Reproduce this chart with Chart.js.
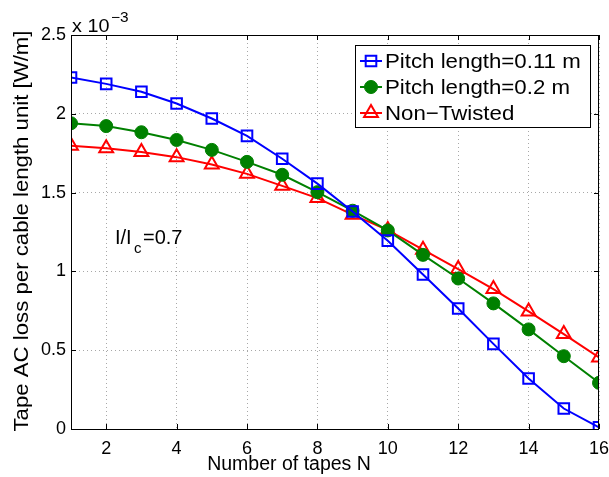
<!DOCTYPE html>
<html>
<head>
<meta charset="utf-8">
<script src="https://cdn.jsdelivr.net/npm/chart.js@4"></script>
<style>
  html, body { margin: 0; padding: 0; background: #fff; }
  #wrap { width: 609px; height: 477px; }
</style>
</head>
<body>
<div id="wrap"><canvas id="myChart" width="609" height="477"></canvas></div>
<script>
// number of tapes (x)
const tapes = [1, 2, 3, 4, 5, 6, 7, 8, 9, 10, 11, 12, 13, 14, 15, 16];
// AC loss, x 10^-3 W/m
const pitch011 = [2.23, 2.19, 2.14, 2.065, 1.97, 1.86, 1.715, 1.557, 1.38, 1.195, 0.98, 0.765, 0.54, 0.32, 0.13, 0.01];
const pitch02 = [1.94, 1.922, 1.883, 1.834, 1.771, 1.695, 1.613, 1.503, 1.385, 1.26, 1.105, 0.955, 0.797, 0.632, 0.462, 0.293];
const nonTwisted = [1.798, 1.782, 1.757, 1.725, 1.678, 1.619, 1.543, 1.465, 1.36, 1.262, 1.138, 1.015, 0.888, 0.746, 0.602, 0.454];

const xTicks = [2, 4, 6, 8, 10, 12, 14, 16];
const yTicks = [0, 0.5, 1, 1.5, 2, 2.5];

const FONT = '"Liberation Sans", Arial, Helvetica, sans-serif';

const toPoints = arr => arr.map((v, i) => ({ x: tapes[i], y: v }));

// text with a bit of horizontal stretch, like the original export
function stretchText(ctx, txt, x, y, size, sx, align) {
    ctx.save();
    ctx.font = size + 'px ' + FONT;
    ctx.textAlign = align || 'left';
    ctx.translate(x, y);
    ctx.scale(sx, 1);
    ctx.fillText(txt, 0, 0);
    ctx.restore();
}

function drawMarker(ctx, style, x, y, r) {
    if (style === 'rect') {
        const s = r / Math.SQRT2;
        ctx.rect(x - s, y - s, 2 * s, 2 * s);
    } else if (style === 'circle') {
        ctx.arc(x, y, r, 0, Math.PI * 2);
    } else if (style === 'triangle') {
        let rad = 0;
        ctx.moveTo(x + Math.sin(rad) * r, y - Math.cos(rad) * r);
        rad += 2 * Math.PI / 3;
        ctx.lineTo(x + Math.sin(rad) * r, y - Math.cos(rad) * r);
        rad += 2 * Math.PI / 3;
        ctx.lineTo(x + Math.sin(rad) * r, y - Math.cos(rad) * r);
        ctx.closePath();
    }
}

// box, inward ticks, titles, legend, annotation
const decorPlugin = {
    id: 'decor',
    afterDraw(chart) {
        const ctx = chart.ctx;
        const a = chart.chartArea;
        const xs = chart.scales.x, ys = chart.scales.y;
        ctx.save();
        ctx.strokeStyle = '#000';
        ctx.lineWidth = 1;
        ctx.strokeRect(a.left + 0.5, a.top + 0.5, a.right - a.left - 1, a.bottom - a.top);
        ctx.beginPath();
        xTicks.forEach(t => {
            const px = Math.round(xs.getPixelForValue(t)) + 0.5;
            ctx.moveTo(px, a.bottom); ctx.lineTo(px, a.bottom - 5);
            ctx.moveTo(px, a.top); ctx.lineTo(px, a.top + 5);
        });
        yTicks.forEach(t => {
            const py = Math.round(ys.getPixelForValue(t)) + 0.5;
            ctx.moveTo(a.left, py); ctx.lineTo(a.left + 5, py);
            ctx.moveTo(a.right, py); ctx.lineTo(a.right - 5, py);
        });
        ctx.stroke();

        ctx.fillStyle = '#000';
        ctx.textBaseline = 'alphabetic';
        // exponent
        stretchText(ctx, 'x 10', 72, 32, 18, 1.1);
        stretchText(ctx, '\u22123', 111, 22, 14, 1.1);

        // axis titles
        stretchText(ctx, 'Number of tapes N', 289, 470, 19.5, 1.0, 'center');
        ctx.save();
        ctx.translate(28, 231);
        ctx.rotate(-Math.PI / 2);
        stretchText(ctx, 'Tape AC loss per cable length unit [W/m]', 0, 0, 20, 1.11, 'center');
        ctx.restore();

        // annotation
        stretchText(ctx, 'I/I', 115, 244, 20, 1.0);
        stretchText(ctx, 'c', 134, 253, 15, 1.0);
        stretchText(ctx, '=0.7', 143, 244, 20, 1.0);

        // legend
        const lx = 355, ly = 45, lw = 235, lh = 82;
        ctx.fillStyle = '#fff';
        ctx.fillRect(lx, ly, lw, lh);
        ctx.strokeStyle = '#000';
        ctx.lineWidth = 1;
        ctx.strokeRect(lx + 0.5, ly + 0.5, lw, lh);
        chart.data.datasets.forEach((ds, i) => {
            const cy = 61 + i * 26;
            ctx.strokeStyle = ds.borderColor;
            ctx.lineWidth = 2;
            ctx.beginPath();
            ctx.moveTo(360, cy); ctx.lineTo(382, cy);
            ctx.stroke();
            ctx.fillStyle = ds.pointBackgroundColor;
            ctx.lineWidth = ds.pointBorderWidth;
            ctx.beginPath();
            drawMarker(ctx, ds.pointStyle, 371, cy, ds.pointRadius);
            if (ds.pointBackgroundColor !== 'transparent') ctx.fill();
            ctx.stroke();
            ctx.fillStyle = '#000';
            ctx.textBaseline = 'middle';
            stretchText(ctx, ds.label, 385, cy + 1, 21, 1.06);
        });
        ctx.restore();
    }
};

const ctx = document.getElementById('myChart').getContext('2d');
const myChart = new Chart(ctx, {
    type: 'line',
    data: {
        datasets: [{
            label: 'Pitch length=0.11 m',
            data: toPoints(pitch011),
            borderColor: '#0000ff',
            backgroundColor: '#0000ff',
            pointStyle: 'rect',
            pointRadius: 7.5,
            pointBorderWidth: 2,
            pointBackgroundColor: 'transparent',
            borderWidth: 2,
            tension: 0
        }, {
            label: 'Pitch length=0.2 m',
            data: toPoints(pitch02),
            borderColor: '#008000',
            backgroundColor: '#008000',
            pointStyle: 'circle',
            pointRadius: 6.5,
            pointBorderWidth: 1,
            pointBackgroundColor: '#008000',
            borderWidth: 2,
            tension: 0
        }, {
            label: 'Non\u2212Twisted',
            data: toPoints(nonTwisted),
            borderColor: '#ff0000',
            backgroundColor: '#ff0000',
            pointStyle: 'triangle',
            pointRadius: 8,
            pointBorderWidth: 2,
            pointBackgroundColor: 'transparent',
            borderWidth: 2,
            tension: 0
        }]
    },
    options: {
        responsive: false,
        animation: false,
        layout: { padding: { top: 35, right: 0, left: 0, bottom: 0 } },
        plugins: {
            legend: { display: false },
            tooltip: { enabled: false }
        },
        scales: {
            x: {
                type: 'linear',
                min: 1,
                max: 16,
                afterBuildTicks: s => { s.ticks = xTicks.map(v => ({ value: v })); },
                afterFit: s => { s.height = 48; s.paddingRight = 10; s.paddingLeft = 0; },
                grid: { color: '#a8a8a8', drawTicks: false, lineWidth: 1 },
                border: { display: false, dash: [1, 3] },
                ticks: { color: '#000', font: { family: FONT, size: 18 }, padding: 9, maxRotation: 0,
                         callback: v => String(v) }
            },
            y: {
                min: 0,
                max: 2.5,
                afterBuildTicks: s => { s.ticks = yTicks.map(v => ({ value: v })); },
                afterFit: s => { s.width = 71; s.paddingTop = 0; s.paddingBottom = 0; },
                grid: { color: '#a8a8a8', drawTicks: false, lineWidth: 1 },
                border: { display: false, dash: [1, 3] },
                ticks: { color: '#000', font: { family: FONT, size: 18 }, padding: 5,
                         callback: v => String(v) }
            }
        }
    },
    plugins: [decorPlugin]
});
</script>
</body>
</html>
